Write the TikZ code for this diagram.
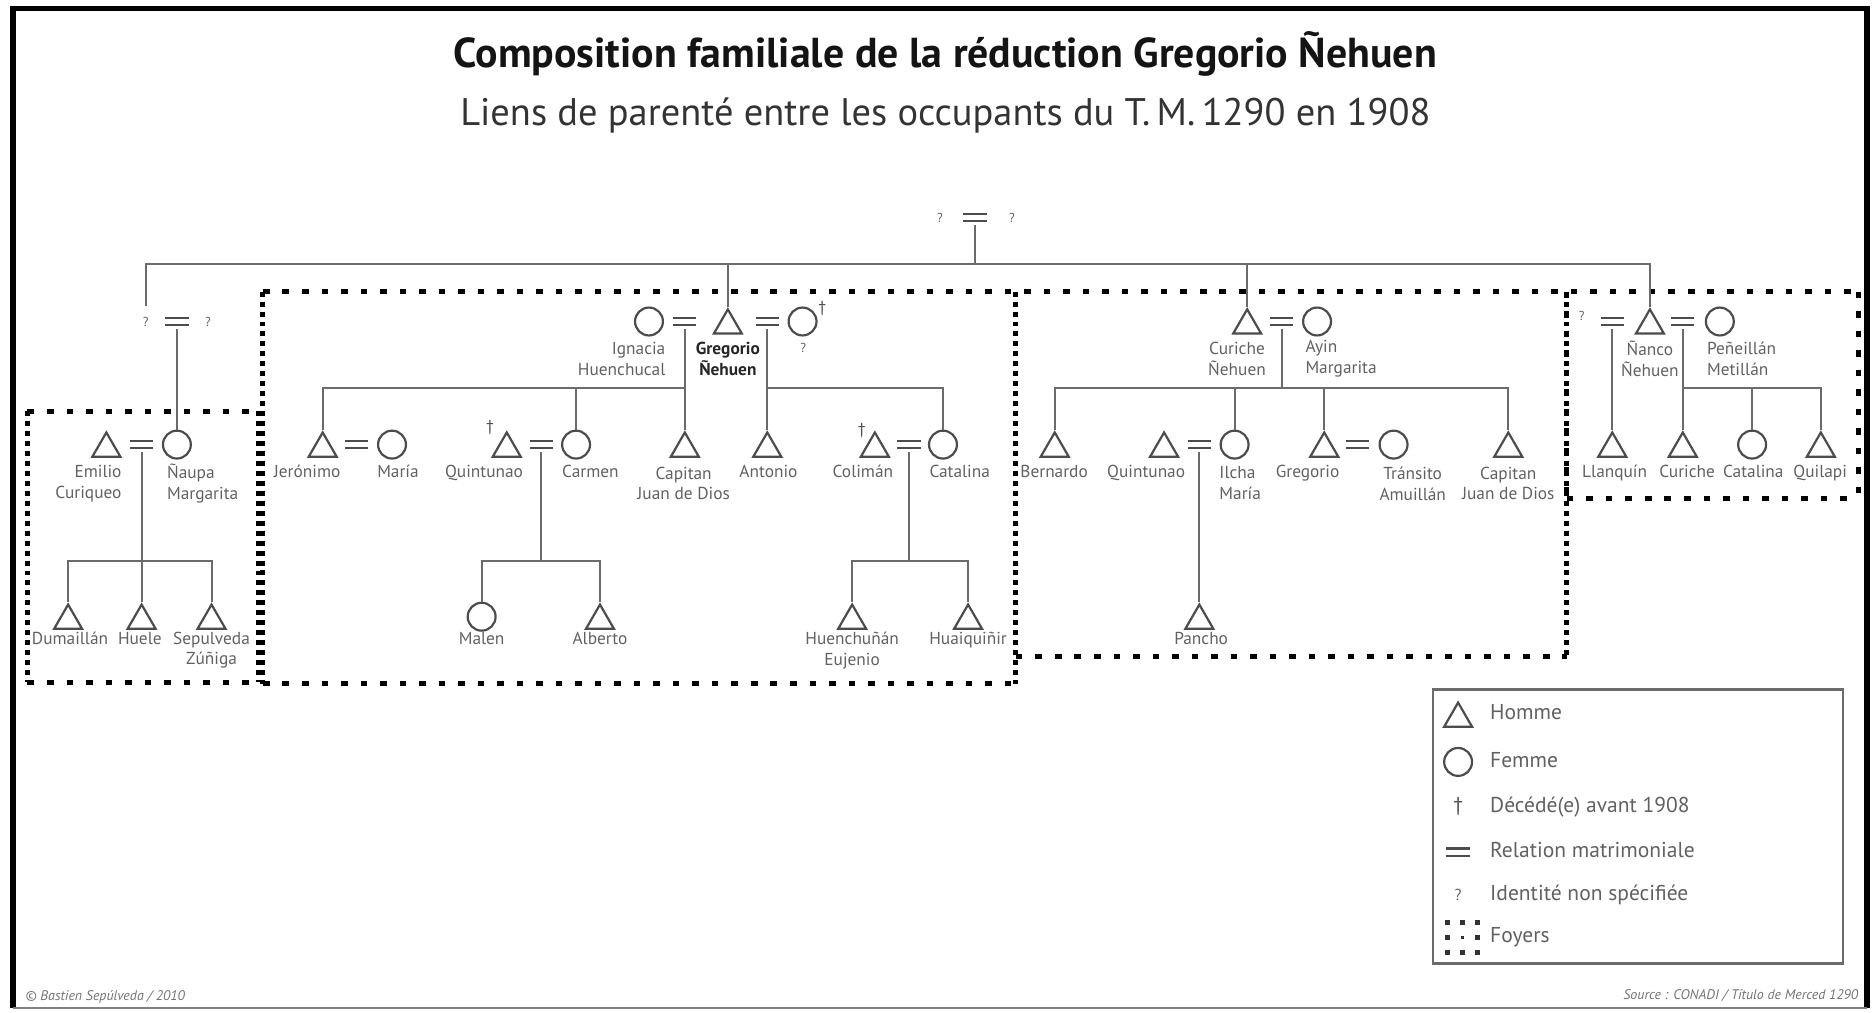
\documentclass[tikz,border=0pt]{standalone}
\usepackage{fontspec}
\setmainfont{PT Sans}
\usetikzlibrary{shapes.geometric}
\definecolor{linec}{gray}{0.42}
\definecolor{symc}{gray}{0.30}
\definecolor{labc}{gray}{0.38}
\newcommand\labfont{\fontsize{8.7}{10.5}\selectfont}
\newcommand\legfont{\fontsize{10.8}{12}\selectfont}
\newcommand\eqsym{\vbox{\hrule width 11.7pt height 1.2pt\vskip 2.4pt\hrule width 11.7pt height 1.2pt}}
\begin{document}
\begin{tikzpicture}[x=0.6pt,y=-0.6pt,
  man/.style={regular polygon, regular polygon sides=3, minimum size=16.2pt, inner sep=0pt, draw=symc, line width=1.1pt, yshift=-2pt},
  woman/.style={circle, minimum size=14pt, inner sep=0pt, draw=symc, line width=1.1pt},
  eq/.style={inner sep=0pt, outer sep=1.5pt, text=symc},
  unk/.style={font=\fontsize{6.5}{7}\selectfont, text=labc, inner sep=1pt},
  dag/.style={font=\fontsize{8}{8}\selectfont, text=symc, inner sep=0pt},
  lab/.style={font=\labfont, text=labc, inner sep=0pt, align=center},
  lab1/.style={lab, text height=6.2pt, text depth=1.8pt},
  conn/.style={draw=linec, line width=1pt},
  hdots/.style={draw=black, line width=2.5pt, dash pattern=on 3.3pt off 6.5pt},
  vdots/.style={draw=black, line width=2.5pt, dash pattern=on 2.5pt off 2.5pt},
  legtext/.style={font=\legfont, text=labc, inner sep=0pt, anchor=west, text height=7.5pt, text depth=2.2pt}
]
\useasboundingbox (0,0) rectangle (1568,847);
% frame
\draw[black, line width=3pt] (10.9,843.4) -- (10.9,7.1) -- (1562,7.1) -- (1562,843.4);
\draw[gray, line width=1pt] (10.9,843.4) -- (1562,843.4);

% titles
\node[font=\bfseries\fontsize{21}{25}\selectfont, text=black!92, inner sep=0pt] (title) at (791,45) {Composition familiale de la réduction Gregorio Ñehuen};
\node[font=\fontsize{19.3}{23}\selectfont, text=black!80, inner sep=0pt] (subtitle) at (791,97) {Liens de parenté entre les occupants du T.\,M.\,1290 en 1908};

% foyers (dotted boxes)
\draw[hdots] (23,344) -- (216,344);
\draw[hdots] (23,571) -- (216,571);
\draw[vdots] (23,344) -- (23,571);
\draw[vdots] (216,344) -- (216,571);
\draw[hdots] (220,244) -- (1555,244);
\draw[hdots] (220,572) -- (850,572);
\draw[vdots] (220,244) -- (220,572);
\draw[vdots] (850,244) -- (850,572);
\draw[hdots] (850,549) -- (1311,549);
\draw[vdots] (1311,244) -- (1311,549);
\draw[hdots] (1311,417) -- (1555,417);
\draw[hdots] (1311,244) -- (1311,417);
\draw[hdots] (1555,244) -- (1555,417);

% top couple
\node[unk] (qT1) at (786.5,182) {?};
\node[eq] (eT) at (815.8,182) {\eqsym};
\node[unk] (qT2) at (846.7,182) {?};
\coordinate (mainbar) at (815.8,221);

% left group
\node[unk] (qL1) at (122,269) {?};
\node[eq] (eL) at (148,269) {\eqsym};
\node[unk] (qL2) at (174,269) {?};
\node[man] (emilio) at (89,372) {};
\node[eq] (eEm) at (118.5,372) {\eqsym};
\node[woman] (naupa) at (148,372) {};
\node[lab, align=right, anchor=east] (lEmilio) at (102,404.5) {Emilio\\Curiqueo};
\node[lab, align=left, anchor=west] (lNaupa) at (139.5,404.5) {Ñaupa\\Margarita};
\node[man] (duma) at (57,516) {};
\node[man] (huele) at (118.5,516) {};
\node[man] (sepu) at (177,516) {};
\node[lab1] (lDuma) at (58.6,535.5) {Dumaillán};
\node[lab1] (lHuele) at (117,535.5) {Huele};
\node[lab] (lSepu) at (177,544) {Sepulveda\\Zúñiga};
\coordinate (barEm) at (118.5,469);

% Gregorio group
\node[woman] (ignacia) at (543,269) {};
\node[eq] (eG1) at (573,269) {\eqsym};
\node[man] (greg) at (609,269) {};
\node[eq] (eG2) at (642,269) {\eqsym};
\node[woman] (wife2) at (671.5,269) {};
\node[dag] (dW2) at (688,258) {†};
\node[lab, align=right, anchor=east] (lIgn) at (557,300) {Ignacia\\Huenchucal};
\node[lab, font=\labfont\bfseries, text=black!85] (lGreg) at (609,300) {Gregorio\\Ñehuen};
\node[unk] (lW2) at (672,291) {?};
\coordinate (barG1) at (573,325);
\coordinate (barG2) at (642,325);

\node[man] (jero) at (270,372) {};
\node[eq] (eJ) at (298.5,372) {\eqsym};
\node[woman] (maria) at (328,372) {};
\node[man] (quin) at (424,372) {};
\node[dag] (dQuin) at (410,358) {†};
\node[eq] (eQ) at (453,372) {\eqsym};
\node[woman] (carmen) at (482,372) {};
\node[man] (capG) at (573,372) {};
\node[man] (anto) at (642,372) {};
\node[man] (coli) at (732,372) {};
\node[dag] (dColi) at (721,360) {†};
\node[eq] (eCo) at (760.5,372) {\eqsym};
\node[woman] (cata) at (789,372) {};
\node[lab1] (lJero) at (257,396) {Jerónimo};
\node[lab1] (lMaria) at (333,396) {María};
\node[lab1] (lQuin) at (405,396) {Quintunao};
\node[lab1] (lCarmen) at (494,396) {Carmen};
\node[lab] (lCapG) at (572,404.5) {Capitan\\Juan de Dios};
\node[lab1] (lAnto) at (643,396) {Antonio};
\node[lab1] (lColi) at (722,396) {Colimán};
\node[lab1] (lCata) at (803,396) {Catalina};

\node[woman] (malen) at (403,516) {};
\node[man] (alberto) at (502,516) {};
\node[lab1] (lMalen) at (403,535.5) {Malen};
\node[lab1] (lAlb) at (502,535.5) {Alberto};
\coordinate (barQ) at (453,469);
\node[man] (huen) at (713,516) {};
\node[man] (huai) at (810,516) {};
\node[lab] (lHuen) at (713,544) {Huenchuñán\\Eujenio};
\node[lab1] (lHuai) at (810,535.5) {Huaiquiñir};
\coordinate (barCo) at (760.5,469);

% Curiche group
\node[man] (curi) at (1043.5,269) {};
\node[eq] (eC) at (1072.5,269) {\eqsym};
\node[woman] (ayin) at (1102,269) {};
\node[lab] (lCuri) at (1035,300) {Curiche\\Ñehuen};
\node[lab, align=left, anchor=west] (lAyin) at (1092,300) {Ayin\\Margarita};
\coordinate (barC) at (1072.5,325);
\node[man] (bern) at (882.5,372) {};
\node[man] (quin2) at (974,372) {};
\node[eq] (eQ2) at (1003.5,372) {\eqsym};
\node[woman] (ilcha) at (1033,372) {};
\node[man] (greg2) at (1108,372) {};
\node[eq] (eGr) at (1136,372) {\eqsym};
\node[woman] (trans) at (1166,372) {};
\node[man] (capC) at (1262,372) {};
\node[lab1] (lBern) at (882,396) {Bernardo};
\node[lab1] (lQuin2) at (959,396) {Quintunao};
\node[lab, align=left, anchor=west] (lIlcha) at (1020,404.5) {Ilcha\\María};
\node[lab1] (lGreg2) at (1094,396) {Gregorio};
\node[lab] (lTrans) at (1182,404.5) {Tránsito\\Amuillán};
\node[lab] (lCapC) at (1262,404.5) {Capitan\\Juan de Dios};
\node[man] (pancho) at (1003.5,516) {};
\node[lab1] (lPancho) at (1005,535.5) {Pancho};

% Nanco group
\node[unk] (qN) at (1323.5,264) {?};
\node[eq] (eN1) at (1349,269) {\eqsym};
\node[man] (nan) at (1380.5,269) {};
\node[eq] (eN2) at (1408,269) {\eqsym};
\node[woman] (pene) at (1439,269) {};
\node[lab] (lNan) at (1380.5,300) {Ñanco\\Ñehuen};
\node[lab, align=left, anchor=west] (lPene) at (1428,300) {Peñeillán\\Metillán};
\coordinate (barN) at (1408,325);
\node[man] (llan) at (1349,372) {};
\node[man] (curi2) at (1408,372) {};
\node[woman] (cata2) at (1466,372) {};
\node[man] (quil) at (1523.5,372) {};
\node[lab1] (lLlan) at (1351,396) {Llanquín};
\node[lab1] (lCuri2) at (1411.6,396) {Curiche};
\node[lab1] (lCata2) at (1467,396) {Catalina};
\node[lab1] (lQuil) at (1523,396) {Quilapi};

% connectors
\draw[conn] (eT.south) -- (mainbar);
\draw[conn, shorten <=4pt] (qL1.north) |- (mainbar) -| (nan.north);
\draw[conn] (greg.north) -- (greg.north |- mainbar);
\draw[conn] (curi.north) -- (curi.north |- mainbar);
\draw[conn] (eL.south) -- (naupa.north);
\draw[conn] (eEm.south) -- (huele.north);
\draw[conn] (duma.north) |- (barEm) -| (sepu.north);
\draw[conn] (eG1.south) -- (capG.north);
\draw[conn] (jero.north) |- (barG1);
\draw[conn] (carmen.north) -- (carmen.north |- barG1);
\draw[conn] (eG2.south) -- (anto.north);
\draw[conn] (barG2) -| (cata.north);
\draw[conn] (eQ.south) -- (barQ);
\draw[conn] (malen.north) |- (barQ) -| (alberto.north);
\draw[conn] (eCo.south) -- (barCo);
\draw[conn] (huen.north) |- (barCo) -| (huai.north);
\draw[conn] (eC.south) -- (barC);
\draw[conn] (bern.north) |- (barC) -| (capC.north);
\draw[conn] (ilcha.north) -- (ilcha.north |- barC);
\draw[conn] (greg2.north) -- (greg2.north |- barC);
\draw[conn] (eQ2.south) -- (pancho.north);
\draw[conn] (eN1.south) -- (llan.north);
\draw[conn] (eN2.south) -- (curi2.north);
\draw[conn] (barN) -| (quil.north);
\draw[conn] (cata2.north) -- (cata2.north |- barN);

% legend
\draw[draw=linec, line width=1.2pt] (1199,577) rectangle (1542,806);
\node[man] (lgMan) at (1220,598) {};
\node[woman] (lgWoman) at (1220,637.5) {};
\node[dag, font=\fontsize{10}{10}\selectfont] (lgDag) at (1220,675) {†};
\node[eq] (lgEq) at (1220,713) {\eqsym};
\node[unk, font=\fontsize{8}{8}\selectfont] (lgUnk) at (1220,749) {?};
\foreach \dx/\dy in {1211/772,1223.5/772,1236/772,1211/784.5,1236/784.5,1211/797,1223.5/797,1236/797}
  \fill[black!80] (\dx-2.2,\dy-2) rectangle (\dx+2.2,\dy+2);
\fill[black!80] (1222.3,783.3) rectangle (1224.7,785.7);
\node[legtext] (tHomme) at (1246.5,598) {Homme};
\node[legtext] (tFemme) at (1246.5,637.5) {Femme};
\node[legtext] (tDec) at (1246.5,675) {Décédé(e) avant 1908};
\node[legtext] (tRel) at (1246.5,713) {Relation matrimoniale};
\node[legtext] (tId) at (1246.5,749) {Identité non spécifiée};
\node[legtext] (tFoy) at (1246.5,784) {Foyers};

% footer
\node[font=\itshape\fontsize{7}{8}\selectfont, text=black!55, anchor=west, inner sep=0pt] (credit) at (21,834) {© Bastien Sepúlveda / 2010};
\node[font=\itshape\fontsize{7}{8}\selectfont, text=black!55, anchor=east, inner sep=0pt] (source) at (1555,833) {Source : CONADI / Título de Merced 1290};
\end{tikzpicture}
\end{document}
